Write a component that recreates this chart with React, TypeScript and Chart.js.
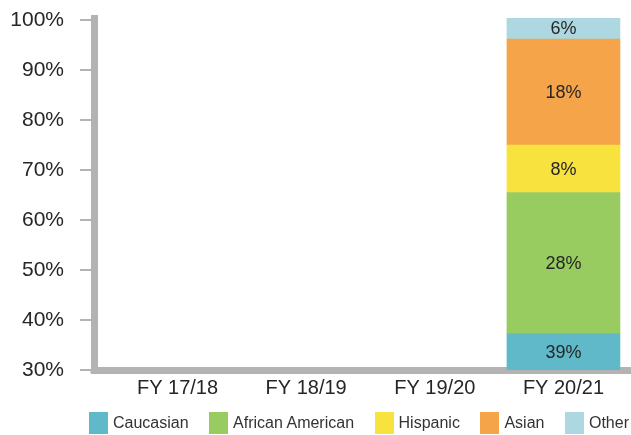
import React, { useEffect, useRef } from "react";
import { Chart, registerables } from "chart.js";

Chart.register(...registerables);

const categories = ["FY 17/18", "FY 18/19", "FY 19/20", "FY 20/21"];
const seriesNames = ["Caucasian", "African American", "Hispanic", "Asian", "Other"];
const seriesColors = ["#5FB9C8", "#98CB60", "#F8E23E", "#F5A44A", "#ADD8E1"];
// bar segment heights (percentage points), per category
const caucasian = [null, null, null, 37.3];
const africanAmerican = [null, null, null, 28.2];
const hispanic = [null, null, null, 9.5];
const asian = [null, null, null, 21.2];
const other = [null, null, null, 4.2];
// printed labels on the segments
const caucasianLabels = ["", "", "", "39%"];
const africanAmericanLabels = ["", "", "", "28%"];
const hispanicLabels = ["", "", "", "8%"];
const asianLabels = ["", "", "", "18%"];
const otherLabels = ["", "", "", "6%"];
const yTicks = [30, 40, 50, 60, 70, 80, 90, 100];

const FONT = "'Liberation Sans', Arial, Helvetica, sans-serif";
const AXIS_COLOR = "#B4B3B1";

const segmentLabelPlugin = {
  id: "segmentLabels",
  afterDatasetsDraw(chart: any) {
    const ctx = chart.ctx;
    const area = chart.chartArea;
    ctx.save();
    ctx.font = `18px ${FONT}`;
    ctx.fillStyle = "#262626";
    ctx.textAlign = "center";
    ctx.textBaseline = "middle";
    chart.data.datasets.forEach((ds: any, di: number) => {
      const meta = chart.getDatasetMeta(di);
      meta.data.forEach((el: any, i: number) => {
        const txt = ds.segLabels[i];
        if (!txt || ds.data[i] == null) return;
        const p = el.getProps(["x", "y", "base"], true);
        const top = Math.max(Math.min(p.y, p.base), area.top);
        const bot = Math.min(Math.max(p.y, p.base), area.bottom);
        ctx.fillText(txt, p.x, (top + bot) / 2 + 1);
      });
    });
    ctx.restore();
  },
};

const axisCornerPlugin = {
  id: "axisCorner",
  afterDraw(chart: any) {
    const ctx = chart.ctx;
    const a = chart.chartArea;
    ctx.save();
    ctx.fillStyle = AXIS_COLOR;
    ctx.fillRect(a.left - 3.5, a.bottom - 1, 7, 4.5);
    ctx.restore();
  },
};

export default function App() {
  const ref = useRef<HTMLCanvasElement | null>(null);

  useEffect(() => {
    document.body.style.margin = "0";
    const values = [caucasian, africanAmerican, hispanic, asian, other];
    const labels = [caucasianLabels, africanAmericanLabels, hispanicLabels, asianLabels, otherLabels];
    const chart = new Chart(ref.current as HTMLCanvasElement, {
      type: "bar",
      data: {
        labels: categories.map((_, i) => i),
        datasets: seriesNames.map((name, k) => ({
          label: name,
          data: values[k],
          segLabels: labels[k],
          backgroundColor: seriesColors[k],
          borderWidth: 0,
          barThickness: 113,
        })) as any,
      },
      options: {
        animation: false,
        responsive: false,
        devicePixelRatio: 1,
        layout: { padding: { top: 18, left: 0, right: 0, bottom: 0 } },
        plugins: { legend: { display: false }, tooltip: { enabled: false } },
        scales: {
          x: {
            type: "linear",
            stacked: true,
            offset: false,
            min: -0.649,
            max: 3.525,
            afterBuildTicks: (scale: any) => {
              scale.ticks = categories.map((_, i) => ({ value: i }));
            },
            afterFit: (scale: any) => {
              scale.height = 65;
              scale.paddingLeft = 0;
              scale.paddingRight = 0;
            },
            ticks: {
              autoSkip: false,
              maxRotation: 0,
              padding: 6,
              color: "#262626",
              font: { family: FONT, size: 20 },
              callback: (v: any) => categories[v] ?? "",
            },
            grid: { display: false, drawTicks: false, offset: false },
            border: { display: true, color: AXIS_COLOR, width: 7 },
          },
          y: {
            type: "linear",
            stacked: true,
            min: 30,
            max: 100.4,
            afterBuildTicks: (scale: any) => {
              scale.ticks = yTicks.map((v) => ({ value: v }));
            },
            afterFit: (scale: any) => {
              scale.width = 94;
              scale.paddingTop = 0;
              scale.paddingBottom = 0;
            },
            ticks: {
              padding: 16,
              color: "#262626",
              font: { family: FONT, size: 21 },
              callback: (v: any) => `${v}%`,
            },
            grid: {
              display: true,
              drawOnChartArea: false,
              drawTicks: true,
              tickLength: 14,
              color: AXIS_COLOR,
              lineWidth: 2,
            },
            border: { display: true, color: AXIS_COLOR, width: 7 },
          },
        },
      },
      plugins: [segmentLabelPlugin, axisCornerPlugin],
    } as any);
    return () => chart.destroy();
  }, []);

  return (
    <div style={{ position: "relative", width: 631, height: 435, background: "#fff" }}>
      <canvas ref={ref} width={631} height={435} style={{ position: "absolute", left: 0, top: 0 }} />
      <div
        style={{
          position: "absolute",
          left: 89,
          top: 412,
          height: 22,
          display: "flex",
          alignItems: "center",
          gap: 20.5,
          fontFamily: FONT,
          fontSize: 16,
          color: "#333",
          whiteSpace: "nowrap",
        }}
      >
        {seriesNames.map((name, k) => (
          <div key={name} style={{ display: "flex", alignItems: "center" }}>
            <span style={{ display: "inline-block", width: 19, height: 22, background: seriesColors[k] }} />
            <span style={{ marginLeft: 5, lineHeight: "22px" }}>{name}</span>
          </div>
        ))}
      </div>
    </div>
  );
}
